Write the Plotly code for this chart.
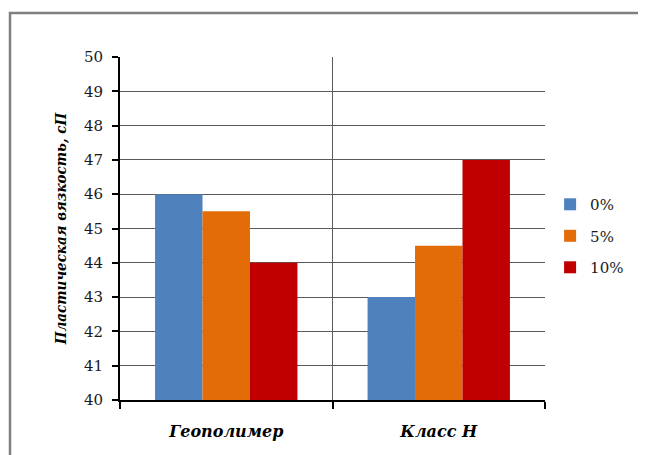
import plotly.graph_objects as go

categories = ["Геополимер", "Класс H"]
series_names = ["0%", "5%", "10%"]
values_0 = [46, 43]
values_5 = [45.5, 44.5]
values_10 = [44, 47]
colors = ["#4F81BD", "#E36C09", "#C00000"]

FONT = "DejaVu Serif"
FONT_C = "DejaVu Serif Condensed, DejaVu Serif"
fig = go.Figure()
for name, vals, c in zip(series_names, [values_0, values_5, values_10], colors):
    fig.add_trace(go.Bar(
        x=categories, y=vals, name=name, marker=dict(color=c, line=dict(width=0)),
        legendgroup=name,
    ))

# the page body adds an 8px offset; compensate
OFF = 8
W, H = 646, 455
ml, mr, mt, mb = 120 - OFF, 101 + OFF, 57 - OFF, 55 + OFF
pw = W - ml - mr
ph = H - mt - mb

fig.update_layout(
    width=W, height=H,
    margin=dict(l=ml, r=mr, t=mt, b=mb, autoexpand=False),
    paper_bgcolor="white", plot_bgcolor="white",
    barmode="group", bargap=0.33, bargroupgap=0,
    font=dict(family=FONT, size=15, color="#1a1a1a"),
    legend=dict(x=1.012, y=0.478, xanchor="left", yanchor="middle",
                font=dict(family=FONT, size=15, color="#1a1a1a"), tracegroupgap=9,
                itemwidth=30, bgcolor="rgba(0,0,0,0)"),
    showlegend=True,
    shapes=[dict(type="rect", xref="paper", yref="paper",
                 x0=(10 - OFF - ml) / pw, x1=(W + 20 - ml) / pw,
                 y0=-(H + 20 - mt - ph) / ph, y1=1 + (mt - (13 - OFF)) / ph,
                 line=dict(color="#7f7f7f", width=2.5), layer="below")],
)
fig.update_xaxes(
    automargin=False,
    tickson="boundaries", showgrid=True, gridcolor="#595959", gridwidth=1,
    ticks="outside", ticklen=7, tickwidth=2, tickcolor="black",
    showline=True, linecolor="black", linewidth=2,
    ticklabelstandoff=16,
    tickfont=dict(family=FONT, size=16, color="black", weight="bold", style="italic"),
    range=[-0.5, 1.5],
)
fig.update_yaxes(
    automargin=False,
    range=[40, 50], dtick=1, showgrid=True, gridcolor="#595959", gridwidth=1,
    ticks="outside", ticklen=6, tickwidth=2, tickcolor="black",
    showline=True, linecolor="black", linewidth=2,
    ticklabelstandoff=6,
    tickfont=dict(family=FONT, size=15, color="#1a1a1a"),
    title=dict(text="Пластическая вязкость, сП",
               font=dict(family=FONT_C, size=15, color="black", weight="bold", style="italic"),
               standoff=14),
    zeroline=False,
)
fig.write_html("out.html")
